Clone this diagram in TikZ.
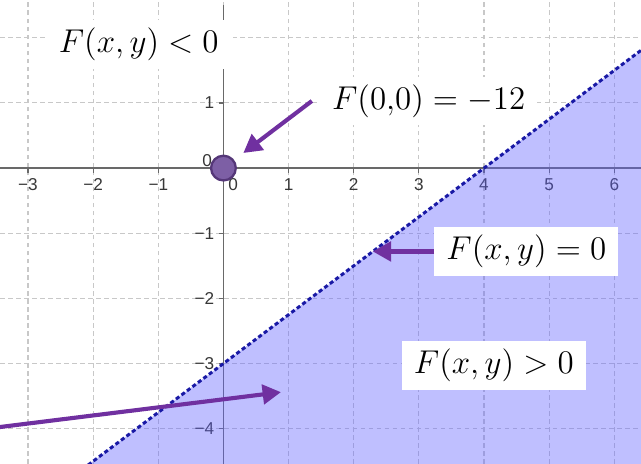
\documentclass[tikz,border=0pt]{standalone}
\usepackage{fontspec}
\setsansfont{Liberation Sans}
\usetikzlibrary{arrows.meta}
\definecolor{gridc}{RGB}{200,200,200}
\definecolor{axisc}{RGB}{105,105,105}
\definecolor{tickc}{RGB}{55,55,55}
\definecolor{fillc}{RGB}{96,96,255}
\definecolor{linec}{RGB}{25,25,165}
\definecolor{arrowc}{RGB}{112,48,160}
\definecolor{ptfill}{RGB}{125,95,165}
\definecolor{ptdraw}{RGB}{85,55,120}
\tikzset{
    gridline/.style={gridc, line width=0.45pt, dash pattern=on 2pt off 1.5pt},
    axis/.style={axisc, line width=0.8pt},
    ticklbl/.style={font=\sffamily\fontsize{7.5}{8}\selectfont, text=tickc, inner sep=1pt},
    boundary/.style={linec, line width=1.3pt, dash pattern=on 1.8pt off 1.2pt},
    callout/.style={arrowc, line width=1.8pt, -{Triangle[length=8pt, width=8.5pt]}},
    lbl/.style={rectangle, fill=white, font=\fontsize{14.5}{16}\selectfont, minimum width=2.82cm, minimum height=0.75cm, inner sep=2pt}
}

\begin{document}
\begin{tikzpicture}[
    dot/.style={circle, fill=ptfill, draw=ptdraw, line width=1pt, minimum size=0.38cm, inner sep=0pt}
]
    \useasboundingbox (-3.43,-4.54) rectangle (6.41,2.58);

    % Grid
    \foreach \x in {-3,...,6}
        \draw[gridline] (\x,-4.54) -- (\x,2.58);
    \foreach \y in {-4,...,2}
        \draw[gridline] (-3.43,\y) -- (6.41,\y);

    % Axes
    \draw[axis] (-3.43,0) -- (6.41,0);
    \draw[axis] (0,-4.54) -- (0,2.5);
    \foreach \x/\t [count=\i] in {-3/−3,-2/−2,-1/−1,1/1,2/2,3/3,4/4,5/5,6/6} {
        \draw[axis, line width=0.5pt] (\x,0) -- (\x,-0.07);
        \node[ticklbl] (xt\i) at (\x,-0.25) {\t};
    }
    \foreach \y/\t [count=\i] in {-4/−4,-3/−3,-2/−2,-1/−1,1/1} {
        \draw[axis, line width=0.5pt] (0,\y) -- (-0.07,\y);
        \node[ticklbl, anchor=east] (yt\i) at (-0.1,\y) {\t};
    }
    \node[ticklbl] (xt0) at (0.15,-0.25) {0};
    \node[ticklbl] (yt0) at (-0.25,0.12) {0};

    % Half-plane F(x,y) > 0 and its boundary
    \begin{scope}
        \clip (-3.43,-4.54) rectangle (6.41,2.58);
        \fill[fillc, fill opacity=0.4] (-2.5,-4.875) -- (6.5,1.875) -- (6.5,-4.875) -- cycle;
        \draw[boundary] (-2.5,-4.875) -- (6.5,1.875);
    \end{scope}

    % Origin
    \node[dot] (orig) at (0,0) {};

    % Labels
    \node[lbl, minimum width=2.89cm] (less) at (-1.30,1.90) {$F(x,y) < 0$};
    \node[lbl, minimum width=3.33cm] (val) at (3.15,1.03) {$F(0{,}0) = -12$};
    \node[lbl] (zero) at (4.65,-1.28) {$F(x,y) = 0$};
    \node[lbl] (more) at (4.15,-3.03) {$F(x,y) > 0$};

    % Callouts
    \coordinate (online) at (2.293,-1.28);
    \coordinate (src) at (-3.43,-3.975);
    \coordinate (inside) at (0.883,-3.44);
    \draw[callout, shorten >=5pt] ([xshift=-0.12cm]val.west) -- (orig);
    \draw[callout] (zero.west) -- (online);
    \draw[callout] (src) -- (inside);
\end{tikzpicture}
\end{document}
